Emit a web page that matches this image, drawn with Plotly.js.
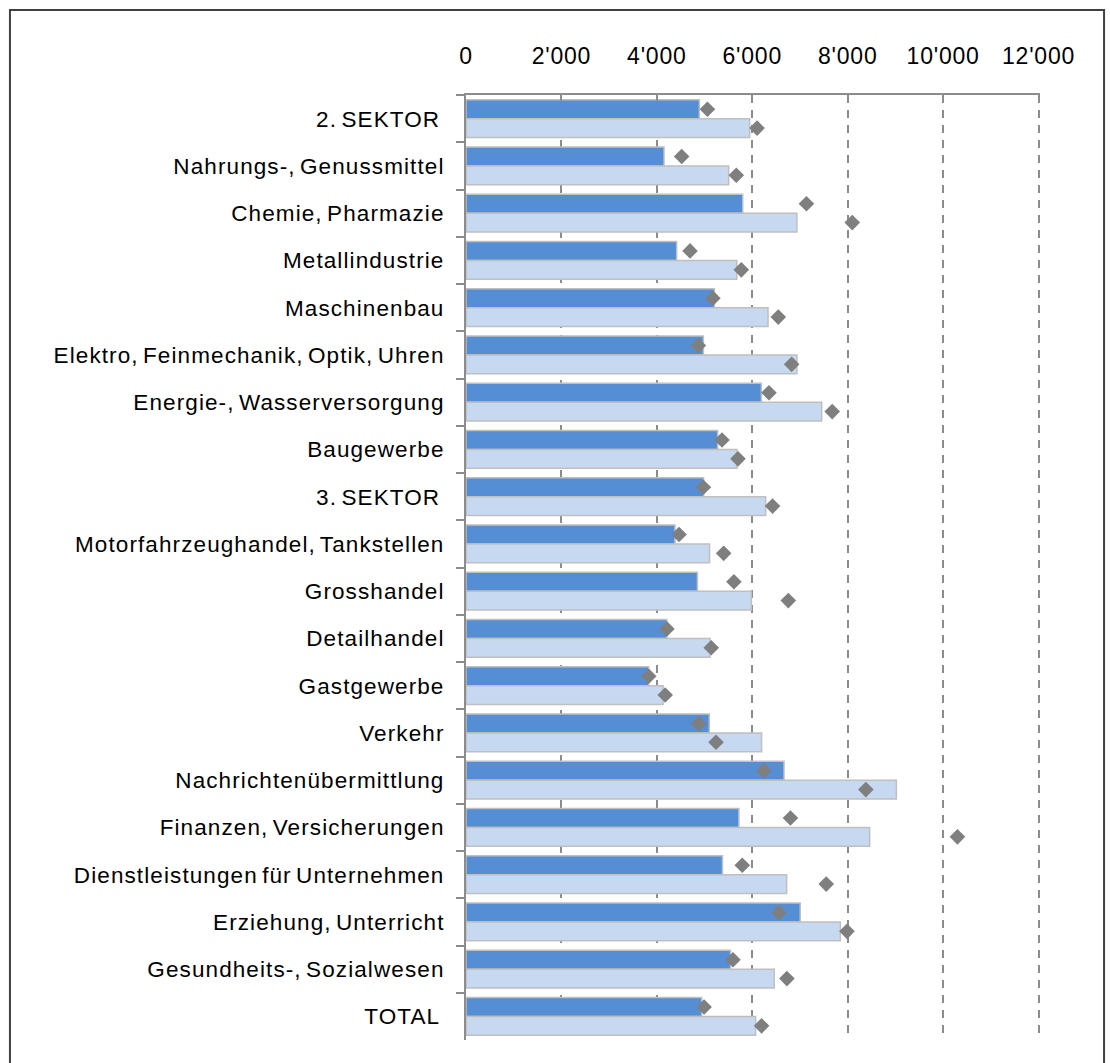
<!DOCTYPE html>
<html>
<head>
<meta charset="utf-8">
<script src="https://cdn.plot.ly/plotly-3.0.1.min.js"></script>
<style>
html,body{margin:0;padding:0;background:#fff;}
#chart{width:1110px;height:1063px;}
#chart .xtick text{letter-spacing:0.8px;}
#chart .ytick text{letter-spacing:1.1px;word-spacing:-3px;}
</style>
</head>
<body>
<div id="chart"></div>
<script>
const categories = [
  "2. SEKTOR\u00a0",
  "Nahrungs-, Genussmittel",
  "Chemie, Pharmazie",
  "Metallindustrie",
  "Maschinenbau",
  "Elektro, Feinmechanik, Optik, Uhren",
  "Energie-, Wasserversorgung",
  "Baugewerbe",
  "3. SEKTOR\u00a0",
  "Motorfahrzeughandel, Tankstellen",
  "Grosshandel",
  "Detailhandel",
  "Gastgewerbe",
  "Verkehr",
  "Nachrichtenübermittlung",
  "Finanzen, Versicherungen",
  "Dienstleistungen für Unternehmen",
  "Erziehung, Unterricht",
  "Gesundheits-, Sozialwesen",
  "TOTAL\u00a0"
];
const barDark  = [4890,4150,5800,4415,5205,4975,6190,5275,4980,4380,4850,4210,3830,5100,6665,5720,5375,7005,5545,4940];
const barLight = [5945,5505,6935,5675,6330,6935,7455,5680,6280,5105,5980,5115,4130,6195,9020,8460,6720,7845,6460,6070];
const dotDark  = [5060,4520,7135,4695,5175,4870,6350,5365,4975,4465,5615,4210,3830,4875,6240,6800,5790,6560,5595,4990];
const dotLight = [6100,5665,8095,5770,6545,6825,7675,5700,6425,5400,6755,5140,4175,5240,8380,10300,7550,7985,6725,6195];
const xTicks = [0,2000,4000,6000,8000,10000,12000];

const barLine = {color:'#bfbfbf', width:1.5};
const traces = [
  {type:'bar', orientation:'h', y:categories, x:barDark, name:'A',
   marker:{color:'#558ed5', line:barLine}},
  {type:'bar', orientation:'h', y:categories, x:barLight, name:'B',
   marker:{color:'#c6d9f1', line:barLine}},
  {type:'scatter', mode:'markers', orientation:'h', y:categories, x:dotDark, name:'C',
   marker:{symbol:'diamond', color:'#7f7f7f', size:12}},
  {type:'scatter', mode:'markers', orientation:'h', y:categories, x:dotLight, name:'D',
   marker:{symbol:'diamond', color:'#7f7f7f', size:12}}
];

const layout = {
  width:1110, height:1063,
  margin:{l:466, r:69.6, t:95, b:23, pad:0},
  paper_bgcolor:'#fff', plot_bgcolor:'#fff',
  showlegend:false,
  separators:".'",
  barmode:'group', bargap:0.2, bargroupgap:0,
  scattermode:'group', scattergap:0.2,
  font:{family:'"Liberation Sans", Arial, sans-serif', size:22.5, color:'#000'},
  xaxis:{
    side:'top', range:[0,12030], tickvals:xTicks, tickformat:',d',
    showgrid:true, gridcolor:'#8c8c8c', gridwidth:2, griddash:'8px,7px',
    showline:true, linecolor:'#8c8c8c', linewidth:2,
    ticks:'inside', ticklen:6, tickcolor:'#8c8c8c', tickwidth:2,
    zeroline:false, ticklabelstandoff:20,
    tickfont:{size:23}
  },
  yaxis:{
    type:'category', autorange:'reversed',
    showgrid:false, zeroline:false,
    showline:true, linecolor:'#8c8c8c', linewidth:2,
    ticks:'outside', tickson:'boundaries', ticklen:8, tickcolor:'#8c8c8c', tickwidth:2,
    ticklabelstandoff:15,
    tickfont:{size:22.5}
  },
  shapes:[{
    type:'rect', xref:'paper', yref:'paper', layer:'above',
    x0:-0.7945, x1:1.1116, y0:-0.03, y1:1.0899,
    line:{color:'#404040', width:2}, fillcolor:'rgba(0,0,0,0)'
  }]
};

Plotly.newPlot('chart', traces, layout, {displayModeBar:false, staticPlot:true});
</script>
</body>
</html>
